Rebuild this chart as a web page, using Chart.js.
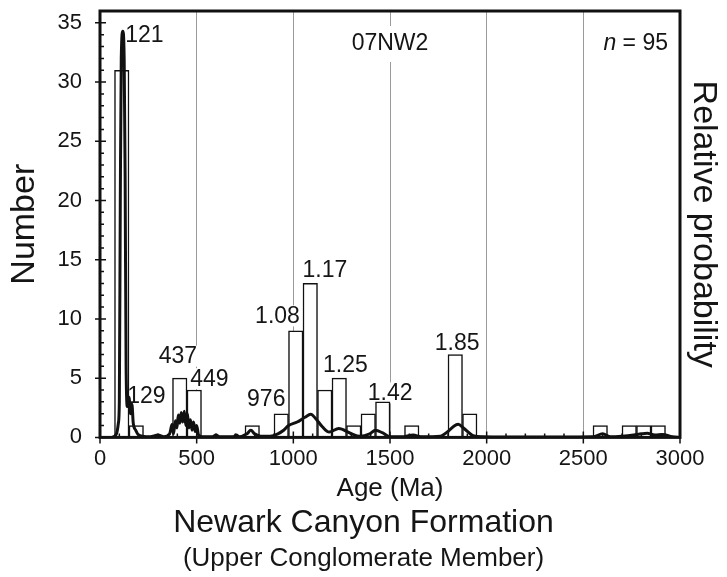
<!DOCTYPE html>
<html>
<head>
<meta charset="utf-8">
<script src="https://cdn.jsdelivr.net/npm/chart.js@4.4.1/dist/chart.umd.min.js"></script>
<style>
  html, body { margin: 0; padding: 0; background: #fff; }
  canvas { display: block; }
</style>
</head>
<body>
<canvas id="chart" width="727" height="577"></canvas>
<script>
// histogram, 75 Ma bins (start of each bin)
const binWidth = 75;
const binStarts = [75, 150, 375, 450, 750, 900, 975, 1050, 1125, 1200,
                   1275, 1350, 1425, 1575, 1800, 1875, 2550, 2700, 2775, 2850];
const binCounts = [31, 1, 5, 4, 1, 2, 9, 13, 4, 5,
                   1, 2, 3, 1, 7, 2, 1, 1, 1, 1];

// relative probability curve (scaled to the count axis)
const probAges = [0, 60, 85, 95, 100, 105, 110, 118, 125, 130,
                  135, 142, 150, 158, 165, 172, 185, 200, 260, 300,
                  330, 360, 373, 380, 390, 398, 405, 413, 420, 428,
                  436, 444, 452, 460, 468, 476, 484, 492, 500, 510,
                  530, 580, 600, 620, 690, 705, 720,
                  760, 780, 800, 830, 880, 920, 950, 975, 1020, 1060,
                  1090, 1115, 1150, 1185, 1235, 1295, 1345, 1395, 1425, 1460,
                  1500, 1560, 1620, 1660, 1760, 1800, 1830, 1853, 1880, 1930,
                  1980, 2100, 2300, 2550, 2600, 2640, 2700, 2760, 2800, 2830,
                  2870, 2910, 2960, 3000];
const probValues = [0, 0, 0.3, 1.2, 3, 20, 32, 34.3, 32, 22,
                    6, 2.6, 3.4, 2, 2.8, 1.2, 0.6, 0.2, 0.05, 0.2,
                    0.05, 0.3, 1.1, 0.3, 1.4, 0.8, 1.9, 1.2, 2.1, 1.3,
                    2.2, 1.0, 2.0, 0.8, 1.5, 0.6, 1.3, 0.5, 1.0, 0.2,
                    0.05, 0.05, 0.2, 0.05, 0.05, 0.2, 0.05,
                    0.3, 0.6, 0.3, 0.1, 0.1, 0.3, 0.6, 1.0, 1.3, 1.7,
                    1.95, 1.6, 0.9, 0.45, 0.75, 0.35, 0.1, 0.3, 0.6, 0.4,
                    0.05, 0.05, 0.2, 0.05, 0.1, 0.5, 0.95, 1.1, 0.8, 0.15,
                    0.05, 0.03, 0.03, 0.05, 0.3, 0.05, 0.1, 0.2, 0.3, 0.35,
                    0.2, 0.25, 0.05, 0];

// peak age labels and where they sit (age, count)
const peakLabels = ['121', '129', '437', '449', '976', '1.08', '1.17', '1.25', '1.42', '1.85'];
const peakLabelAt = [[230, 34], [240, 3.55], [403, 6.9], [566, 5.0], [860, 3.3],
                     [918, 10.3], [1163, 14.2], [1269, 6.1], [1501, 3.8], [1847, 8.0]];

const sampleName = '07NW2';
const sampleCount = 95;

const xTickValues = [0, 500, 1000, 1500, 2000, 2500, 3000];
const yTickValues = [0, 5, 10, 15, 20, 25, 30, 35];

const FONT = "'Liberation Sans', Arial, Helvetica, sans-serif";
const INK = '#151515';

// white boxes behind the labels, then the labels (under the bars, over the grid)
const annotate = {
  id: 'annotate',
  beforeDatasetsDraw(chart) {
    const { ctx, scales: { x, y } } = chart;
    ctx.save();
    ctx.textBaseline = 'middle';
    ctx.font = '23px ' + FONT;
    ctx.textAlign = 'center';
    peakLabels.forEach((t, i) => {
      const px = x.getPixelForValue(peakLabelAt[i][0]);
      const py = y.getPixelForValue(peakLabelAt[i][1]);
      const w = ctx.measureText(t).width;
      ctx.fillStyle = '#fff';
      ctx.fillRect(px - w / 2 - 2, py - 10, w + 4, 21);
      ctx.fillStyle = INK;
      ctx.fillText(t, px, py + 1);
    });

    // sample name, centred in the plot
    const ty = y.getPixelForValue(33.3);
    const cx = (chart.chartArea.left + chart.chartArea.right) / 2;
    const w = ctx.measureText(sampleName).width;
    ctx.fillStyle = '#fff';
    ctx.fillRect(cx - w / 2 - 4, ty - 17, w + 8, 36);
    ctx.fillStyle = INK;
    ctx.fillText(sampleName, cx, ty + 1);

    // n = 95, right aligned
    const right = chart.chartArea.right - 12;
    const rest = ' = ' + sampleCount;
    ctx.textAlign = 'right';
    ctx.fillText(rest, right, ty + 1);
    const rw = ctx.measureText(rest).width;
    ctx.font = 'italic 23px ' + FONT;
    ctx.fillText('n', right - rw, ty + 1);
    ctx.restore();
  }
};

// heavy frame with inward minor ticks
const frame = {
  id: 'frame',
  afterDraw(chart) {
    const { ctx, chartArea: a, scales: { x, y } } = chart;
    ctx.save();
    ctx.strokeStyle = '#111';
    ctx.lineWidth = 1.5;
    ctx.beginPath();
    for (let v = 0; v <= 3000; v += 100) {
      const px = x.getPixelForValue(v);
      const major = xTickValues.includes(v);
      ctx.moveTo(px, a.bottom + (major ? 6 : 0));
      ctx.lineTo(px, a.bottom - (major ? 6 : 4));
    }
    for (let v = 0; v <= 36; v += 1) {
      const py = y.getPixelForValue(v);
      const major = yTickValues.includes(v);
      ctx.moveTo(a.left - (major ? 5 : 0), py);
      ctx.lineTo(a.left + (major ? 6 : 4), py);
    }
    ctx.stroke();
    ctx.lineWidth = 3;
    ctx.strokeRect(a.left, a.top, a.width, a.height);
    ctx.restore();
  }
};

const noPad = s => { s.paddingTop = 0; s.paddingBottom = 0; s.paddingLeft = 0; s.paddingRight = 0; };

new Chart(document.getElementById('chart'), {
  type: 'bar',
  data: {
    datasets: [
      {
        type: 'line',
        data: probAges.map((age, i) => ({ x: age, y: probValues[i] })),
        borderColor: '#111',
        borderWidth: 3,
        pointRadius: 0,
        fill: false,
        cubicInterpolationMode: 'monotone',
        order: 0
      },
      {
        type: 'bar',
        data: binStarts.map((s, i) => ({ x: s + binWidth / 2, y: binCounts[i] })),
        backgroundColor: '#fff',
        borderColor: '#111',
        borderWidth: 1.5,
        barPercentage: 1,
        categoryPercentage: 1,
        order: 1
      }
    ]
  },
  options: {
    responsive: false,
    animation: false,
    layout: { padding: { top: 11, left: 0, right: 0, bottom: 0 } },
    plugins: {
      legend: { display: false },
      tooltip: { enabled: false },
      title: {
        display: true,
        position: 'bottom',
        text: 'Newark Canyon Formation',
        color: INK,
        font: { family: FONT, size: 32, weight: 'normal', lineHeight: 1.2 },
        padding: 0,
        weight: 1000
      },
      subtitle: {
        display: true,
        position: 'bottom',
        text: '(Upper Conglomerate Member)',
        color: INK,
        font: { family: FONT, size: 26, weight: 'normal', lineHeight: 1.2 },
        padding: { top: 0, bottom: 3 },
        weight: 2000
      }
    },
    scales: {
      x: {
        type: 'linear',
        min: 0,
        max: 3000,
        offset: false,
        afterBuildTicks: s => { s.ticks = xTickValues.map(v => ({ value: v })); },
        afterFit: s => { s.height = 67; noPad(s); },
        ticks: { color: INK, font: { family: FONT, size: 22 }, padding: 8, maxRotation: 0,
                 autoSkip: false, callback: v => String(v) },
        grid: { color: '#9a9a9a', lineWidth: 1, drawTicks: false, offset: false },
        border: { display: false },
        title: { display: true, text: 'Age (Ma)', color: INK, padding: 0,
                 font: { family: FONT, size: 26, lineHeight: 1.2 } }
      },
      y: {
        min: 0,
        max: 36,
        afterBuildTicks: s => { s.ticks = yTickValues.map(v => ({ value: v })); },
        afterFit: s => { s.width = 100; noPad(s); },
        ticks: { color: INK, font: { family: FONT, size: 22 }, padding: 18 },
        grid: { display: false, drawTicks: false },
        border: { display: false },
        title: { display: true, text: 'Number', color: INK, padding: { top: 4, bottom: 0 },
                 font: { family: FONT, size: 34, lineHeight: 1.2 } }
      },
      y2: {
        position: 'right',
        min: 0,
        max: 1,
        afterFit: s => { s.width = 47; noPad(s); },
        ticks: { display: false },
        grid: { display: false, drawTicks: false },
        border: { display: false },
        title: { display: true, text: 'Relative probability', color: INK, padding: { top: 3, bottom: 0 },
                 font: { family: FONT, size: 34, lineHeight: 1.2 } }
      }
    }
  },
  plugins: [annotate, frame]
});
</script>
</body>
</html>
